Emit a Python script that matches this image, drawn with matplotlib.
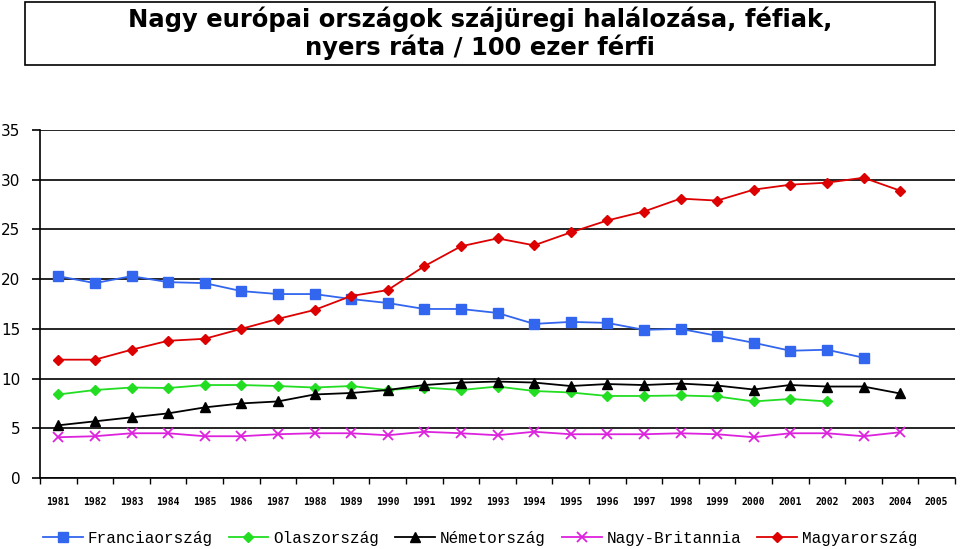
import matplotlib
matplotlib.use("Agg")
import matplotlib.pyplot as plt
from matplotlib.patches import Rectangle
import numpy as np

years = [str(y) for y in range(1981, 2006)]

francia = [20.3, 19.6, 20.3, 19.7, 19.6, 18.8, 18.5, 18.5, 18.0, 17.6, 17.0, 17.0,
           16.6, 15.5, 15.7, 15.6, 14.9, 15.0, 14.3, 13.6, 12.8, 12.9, 12.1]
olasz = [8.4, 8.85, 9.1, 9.05, 9.35, 9.35, 9.25, 9.1, 9.25, 8.85, 9.1, 8.85,
         9.2, 8.75, 8.6, 8.25, 8.25, 8.3, 8.2, 7.7, 7.95, 7.7]
nemet = [5.3, 5.7, 6.1, 6.5, 7.1, 7.5, 7.7, 8.4, 8.55, 8.85, 9.35, 9.6,
         9.7, 9.6, 9.25, 9.45, 9.35, 9.5, 9.3, 8.9, 9.35, 9.2, 9.2, 8.5]
brit = [4.1, 4.2, 4.5, 4.5, 4.2, 4.2, 4.4, 4.5, 4.5, 4.3, 4.65, 4.5,
        4.3, 4.65, 4.4, 4.4, 4.4, 4.5, 4.4, 4.1, 4.5, 4.5, 4.2, 4.6]
magyar = [11.9, 11.9, 12.9, 13.8, 14.0, 15.0, 16.0, 16.9, 18.3, 18.9, 21.3, 23.3,
          24.1, 23.4, 24.7, 25.9, 26.8, 28.1, 27.9, 29.0, 29.5, 29.7, 30.2, 28.9]

labels = ["Franciaország", "Olaszország", "Németország", "Nagy-Britannia", "Magyarország"]

fig = plt.figure(figsize=(9.6, 5.49), dpi=100)
ax = fig.add_axes([40 / 960, 1 - 478 / 549, 915 / 960, 348 / 549])

x = np.arange(len(years))
ax.plot(x[:len(francia)], francia, color="#3366ee", marker="s", markersize=7, lw=1.3, label=labels[0])
ax.plot(x[:len(olasz)], olasz, color="#22dd22", marker="D", markersize=5, lw=1.3, label=labels[1])
ax.plot(x[:len(nemet)], nemet, color="black", marker="^", markersize=7, lw=1.3, label=labels[2])
ax.plot(x[:len(brit)], brit, color="#dd22dd", marker="x", markersize=7, mew=1.3, lw=1.3, label=labels[3])
ax.plot(x[:len(magyar)], magyar, color="#dd0000", marker="D", markersize=5, lw=1.3, label=labels[4])

ax.set_xlim(-0.5, len(years) - 0.5)
ax.set_ylim(0, 35)
ax.set_yticks(range(0, 36, 5))
ax.yaxis.grid(True, color="black", lw=1.2)
ax.set_axisbelow(True)
for s in ["top", "right"]:
    ax.spines[s].set_visible(False)
ax.spines["left"].set_linewidth(1.2)
ax.spines["bottom"].set_linewidth(1.2)

ax.set_xticks(np.arange(-0.5, len(years), 1))
ax.set_xticklabels([])
ax.set_xticks(x, minor=True)
ax.set_xticklabels(years, minor=True, fontsize=7, fontweight="bold", family="DejaVu Sans Mono")
ax.tick_params(axis="x", which="major", length=4, width=1, direction="out")
ax.tick_params(axis="x", which="minor", length=0, pad=14)
ax.tick_params(axis="y", length=6, width=1.2, labelsize=11, pad=8)

fig.patches.append(Rectangle((25 / 960, 1 - 65 / 549), 910 / 960, 63 / 549,
                             transform=fig.transFigure, fill=False, edgecolor="black", lw=1.2))
fig.text(0.5, 1 - 33 / 549, "Nagy európai országok szájüregi halálozása, féfiak,\nnyers ráta / 100 ezer férfi",
         ha="center", va="center", fontsize=17.5, fontweight="bold",
         family=["Liberation Sans Narrow", "DejaVu Sans"], linespacing=1.1)

fig.legend(loc="center", bbox_to_anchor=(0.5, 1 - 538 / 549), ncol=5, frameon=False,
           prop={"family": "Liberation Mono", "size": 11.5}, handlelength=2.5,
           columnspacing=1.0, handletextpad=0.3)

fig.savefig("out.png", dpi=100)
